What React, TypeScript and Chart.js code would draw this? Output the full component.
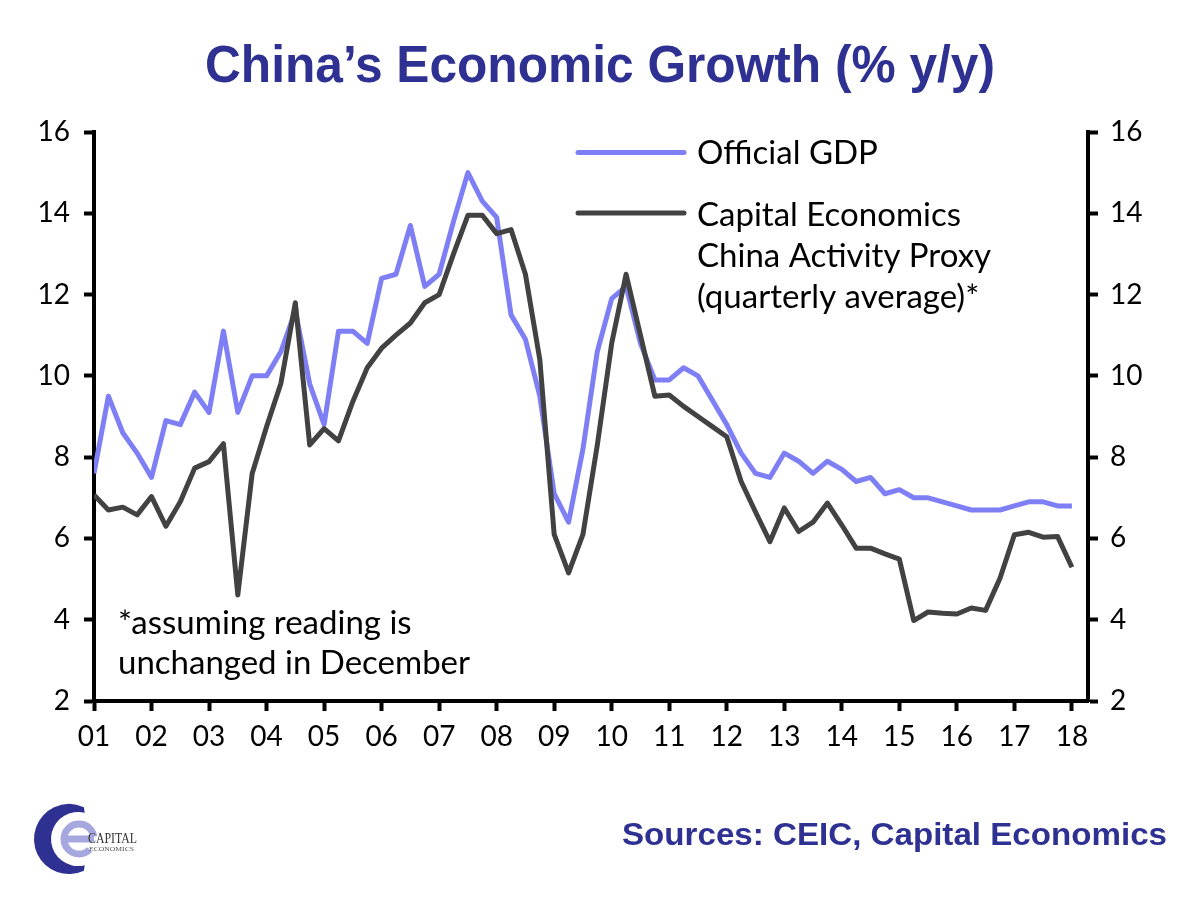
import React, { useEffect, useRef } from "react";
import { Chart, registerables } from "chart.js";

Chart.register(...registerables);

// ---- Data (quarterly, 2000Q4 .. 2017Q4) ----
const officialGDP: number[] = [
  7.6, 9.5, 8.6, 8.1, 7.5, 8.9, 8.8, 9.6, 9.1, 11.1, 9.1, 10.0, 10.0, 10.6, 11.6, 9.8,
  8.8, 11.1, 11.1, 10.8, 12.4, 12.5, 13.7, 12.2, 12.5, 13.8, 15.0, 14.3, 13.9, 11.5,
  10.9, 9.5, 7.1, 6.4, 8.2, 10.6, 11.9, 12.2, 10.8, 9.9, 9.9, 10.2, 10.0, 9.4, 8.8,
  8.1, 7.6, 7.5, 8.1, 7.9, 7.6, 7.9, 7.7, 7.4, 7.5, 7.1, 7.2, 7.0, 7.0, 6.9, 6.8,
  6.7, 6.7, 6.7, 6.8, 6.9, 6.9, 6.8, 6.8,
];
const activityProxy: number[] = [
  7.07, 6.7, 6.77, 6.58, 7.03, 6.3, 6.9, 7.73, 7.89, 8.33, 4.61, 7.6, 8.75, 9.82, 11.8, 8.3,
  8.7, 8.4, 9.37, 10.2, 10.68, 11.0, 11.3, 11.8, 12.0, 13.0, 13.95, 13.95, 13.5, 13.6,
  12.5, 10.4, 6.1, 5.15, 6.1, 8.3, 10.8, 12.5, 11.0, 9.5, 9.53, 9.25, 9.0, 8.75, 8.5,
  7.4, 6.65, 5.92, 6.75, 6.17, 6.4, 6.87, 6.33, 5.76, 5.76, 5.62, 5.49, 3.98, 4.19, 4.16, 4.14,
  4.29, 4.23, 5.02, 6.09, 6.15, 6.03, 6.05, 5.29,
];
const yearLabels: string[] = [
  "01", "02", "03", "04", "05", "06", "07", "08", "09",
  "10", "11", "12", "13", "14", "15", "16", "17", "18",
];
const yTicks: number[] = [2, 4, 6, 8, 10, 12, 14, 16];

const TITLE = "China\u2019s Economic Growth (% y/y)";
const LEGEND_GDP = "Official GDP";
const LEGEND_CAP = ["Capital Economics", "China Activity Proxy", "(quarterly average)*"];
const FOOTNOTE = ["*assuming reading is", "unchanged in December"];
const SOURCES = "Sources: CEIC, Capital Economics";

const NAVY = "#2E3192";
const BLUE = "#7F7FF5";
const GREY = "#424242";
const FONT = "Lato";

function fittedText(
  ctx: CanvasRenderingContext2D,
  text: string,
  x: number,
  y: number,
  width: number,
  font: string,
  color: string,
  align: "left" | "center" | "right"
) {
  ctx.save();
  ctx.font = font;
  ctx.fillStyle = color;
  ctx.textBaseline = "alphabetic";
  const w = ctx.measureText(text).width;
  const sx = width / w;
  let left = x;
  if (align === "center") left = x - width / 2;
  if (align === "right") left = x - width;
  ctx.translate(left, y);
  ctx.scale(sx, 1);
  ctx.textAlign = "left";
  ctx.fillText(text, 0, 0);
  ctx.restore();
}

const decorPlugin = {
  id: "decor",
  afterDraw(chart: any) {
    const ctx: CanvasRenderingContext2D = chart.ctx;
    ctx.save();
    // Title
    fittedText(ctx, TITLE, 600, 82, 790, 'bold 52px "Liberation Sans"', NAVY, "center");

    // Legend
    ctx.lineCap = "round";
    ctx.lineWidth = 5;
    ctx.strokeStyle = BLUE;
    ctx.beginPath();
    ctx.moveTo(578, 152.5);
    ctx.lineTo(684, 152.5);
    ctx.stroke();
    ctx.strokeStyle = GREY;
    ctx.beginPath();
    ctx.moveTo(578, 213);
    ctx.lineTo(684, 213);
    ctx.stroke();

    ctx.fillStyle = "#000";
    ctx.font = `33px ${FONT}`;
    ctx.textAlign = "left";
    ctx.textBaseline = "middle";
    ctx.fillText(LEGEND_GDP, 697, 153);
    LEGEND_CAP.forEach((t, i) => ctx.fillText(t, 697, 215 + i * 41));

    // Footnote
    FOOTNOTE.forEach((t, i) => ctx.fillText(t, 118, 623 + i * 40));

    // Sources
    fittedText(ctx, SOURCES, 1167, 845, 545, 'bold 32px "Liberation Sans"', NAVY, "right");

    // Logo
    const cx = 69, cy = 839;
    ctx.fillStyle = NAVY;
    ctx.beginPath();
    ctx.arc(cx, cy, 35, Math.PI * 0.36, Math.PI * 1.64, false);
    ctx.arc(cx + 9, cy, 27, Math.PI * 1.58, Math.PI * 0.42, true);
    ctx.closePath();
    ctx.fill();
    ctx.strokeStyle = "#A7A7E0";
    ctx.lineWidth = 7;
    ctx.lineCap = "butt";
    ctx.beginPath();
    ctx.arc(cx + 10, cy, 15, Math.PI * 0.25, Math.PI * 1.95, false);
    ctx.stroke();
    ctx.beginPath();
    ctx.moveTo(cx - 4, cy);
    ctx.lineTo(cx + 25, cy);
    ctx.stroke();
    ctx.fillStyle = "#333";
    ctx.textBaseline = "alphabetic";
    fittedText(ctx, "CAPITAL", 88, 843, 49, '15px "Liberation Serif"', "#333", "left");
    fittedText(ctx, "ECONOMICS", 89, 851, 45, '6px "Liberation Serif"', "#555", "left");
    ctx.restore();
  },
};

export default function App() {
  const ref = useRef<HTMLCanvasElement | null>(null);
  useEffect(() => {
    if (!ref.current) return;
    const tickFont = { family: FONT, size: 28 };
    const yAxis = (position: "left" | "right", width: number, padding: number) => ({
      type: "linear" as const,
      position,
      min: 2,
      max: 16,
      afterBuildTicks: (s: any) => {
        s.ticks = yTicks.map((v) => ({ value: v }));
      },
      afterFit: (s: any) => {
        s.width = width;
      },
      ticks: { font: tickFont, color: "#000", padding },
      grid: {
        drawOnChartArea: false,
        drawTicks: true,
        tickLength: 10,
        tickWidth: 4,
        tickColor: "#000",
      },
      border: { display: true, width: 4, color: "#000" },
    });
    const chart = new Chart(ref.current, {
      type: "line",
      data: {
        datasets: [
          {
            label: LEGEND_CAP.join(" "),
            data: activityProxy.map((v, i) => ({ x: i, y: v })),
            borderColor: GREY,
            borderWidth: 5,
            pointRadius: 0,
            order: 0,
            yAxisID: "y",
          },
          {
            label: LEGEND_GDP,
            data: officialGDP.map((v, i) => ({ x: i, y: v })),
            borderColor: BLUE,
            borderWidth: 5,
            pointRadius: 0,
            order: 1,
            yAxisID: "y",
          },
        ],
      },
      options: {
        responsive: false,
        animation: false,
        layout: { padding: { top: 132, bottom: 139, left: 0, right: 0 } },
        elements: { line: { tension: 0, borderJoinStyle: "round" } },
        plugins: {
          legend: { display: false },
          tooltip: { enabled: false },
          title: { display: false },
        },
        scales: {
          x: {
            type: "linear",
            min: 0,
            max: 69.12,
            afterBuildTicks: (s: any) => {
              s.ticks = yearLabels.map((_, k) => ({ value: 4 * k }));
            },
            afterFit: (s: any) => {
              s.height = 60;
            },
            ticks: {
              font: tickFont,
              color: "#000",
              padding: 9,
              maxRotation: 0,
              autoSkip: false,
              callback: (v: any) => yearLabels[Math.round(Number(v) / 4)] ?? "",
            },
            grid: {
              drawOnChartArea: false,
              drawTicks: true,
              tickLength: 10,
              tickWidth: 4,
              tickColor: "#000",
            },
            border: { display: true, width: 4, color: "#000" },
          },
          y: yAxis("left", 94, 14),
          y2: yAxis("right", 112, 12),
        },
      },
      plugins: [decorPlugin],
    });
    return () => chart.destroy();
  }, []);
  return (
    <div
      style={{
        position: "fixed",
        left: 0,
        top: 0,
        width: 1200,
        height: 900,
        background: "#fff",
      }}
    >
      <canvas ref={ref} width={1200} height={900} style={{ display: "block" }} />
    </div>
  );
}
